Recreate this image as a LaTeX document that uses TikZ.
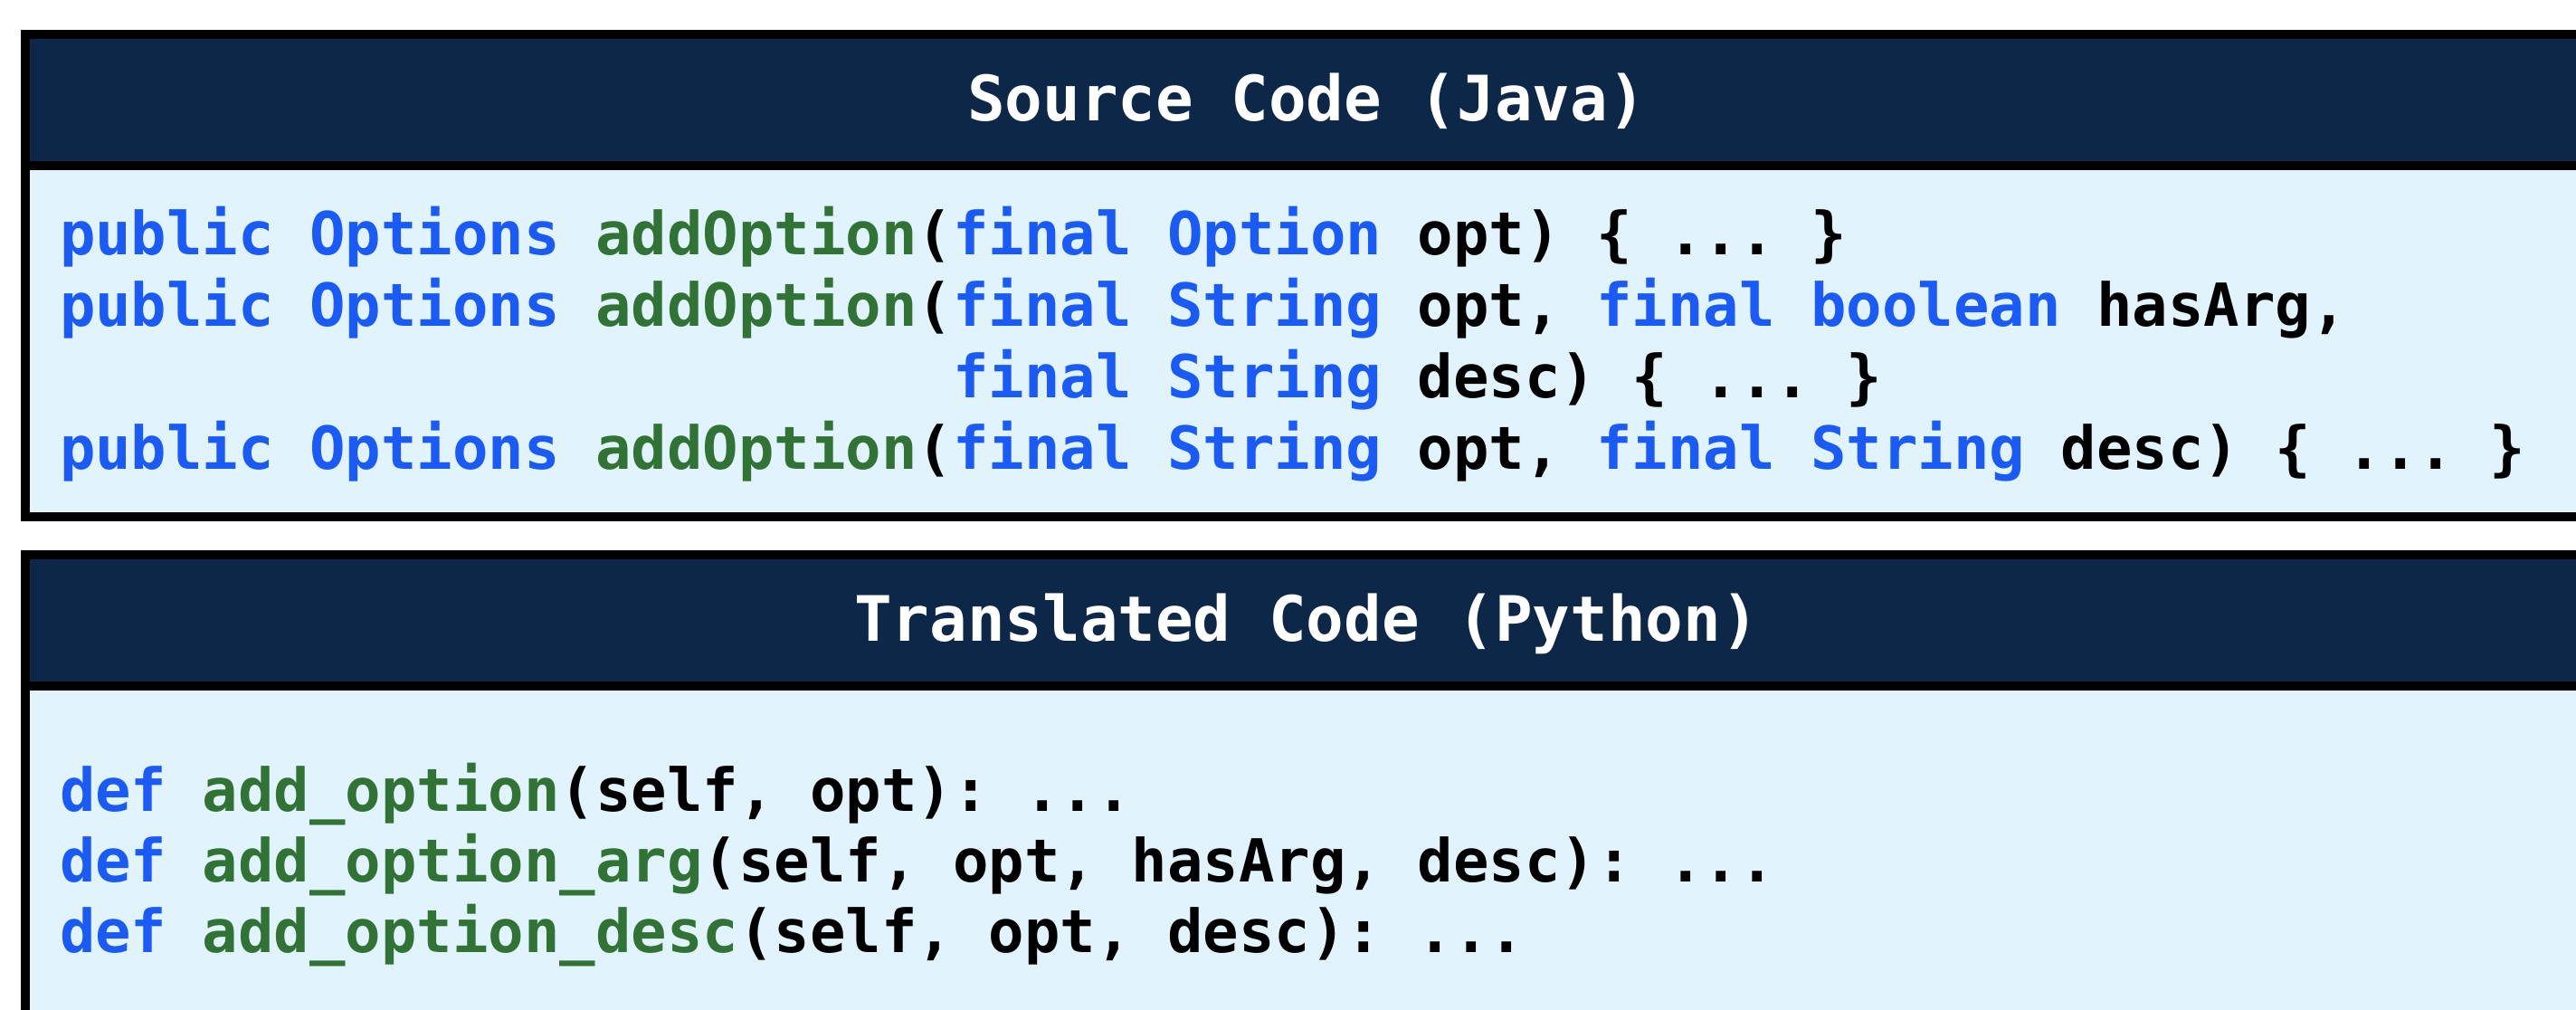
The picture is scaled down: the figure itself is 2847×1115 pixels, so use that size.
\documentclass[tikz,border=0pt]{standalone}
\usepackage{fontspec}
\setmonofont{DejaVu Sans Mono}
\definecolor{navy}{RGB}{12,39,71}
\definecolor{paleblue}{RGB}{225,243,253}
\definecolor{kwblue}{RGB}{26,90,247}
\definecolor{fngreen}{RGB}{48,115,53}
\newcommand\mykw[1]{\textcolor{kwblue}{#1}}
\newcommand\myfn[1]{\textcolor{fngreen}{#1}}
\tikzset{
  codeline/.style={anchor=base west, inner sep=0pt, outer sep=0pt, text=black,
    font=\ttfamily\bfseries\fontsize{16.4}{19.7}\selectfont},
  paneltitle/.style={anchor=base, inner sep=0pt, outer sep=0pt, text=white,
    font=\ttfamily\bfseries\fontsize{17.3}{20.8}\selectfont},
  frameline/.style={draw=black, line width=2.5pt},
}
\begin{document}
\begin{tikzpicture}[x=0.25pt,y=-0.25pt]
\useasboundingbox (0,0) rectangle (2847,1115);
\clip (0,0) rectangle (2847,1115);
% panel 1
\fill[paleblue] (27.7,37.7) rectangle (2900,570.7);
\fill[navy] (27.7,37.7) rectangle (2900,183);
\draw[frameline] (2900,37.7) -- (27.7,37.7) -- (27.7,570.7) -- (2900,570.7);
\draw[frameline] (27.7,183) -- (2900,183);
% panel 2
\fill[paleblue] (27.7,613.3) rectangle (2900,1140);
\fill[navy] (27.7,613.3) rectangle (2900,757.5);
\draw[frameline] (2900,613.3) -- (27.7,613.3) -- (27.7,1140);
\draw[frameline] (27.7,757.5) -- (2900,757.5);
% titles
\node[paneltitle] (t1) at (1444,133) {Source Code (Java)};
\node[paneltitle] (t2) at (1444,708) {Translated Code (Python)};
% Java code
\node[codeline] (j1) at (66,281) {\mykw{public} \mykw{Options} \myfn{addOption}(\mykw{final} \mykw{Option} opt) \{ ... \}};
\node[codeline] (j2) at (66,360) {\mykw{public} \mykw{Options} \myfn{addOption}(\mykw{final} \mykw{String} opt, \mykw{final} \mykw{boolean} hasArg,};
\node[codeline] (j3) at (66,439) {\hphantom{public Options addOption(}\mykw{final} \mykw{String} desc) \{ ... \}};
\node[codeline] (j4) at (66,518) {\mykw{public} \mykw{Options} \myfn{addOption}(\mykw{final} \mykw{String} opt, \mykw{final} \mykw{String} desc) \{ ... \}};
% Python code
\node[codeline] (p1) at (66,896) {\mykw{def} \myfn{add\_option}(self, opt): ...};
\node[codeline] (p2) at (66,974) {\mykw{def} \myfn{add\_option\_arg}(self, opt, hasArg, desc): ...};
\node[codeline] (p3) at (66,1052) {\mykw{def} \myfn{add\_option\_desc}(self, opt, desc): ...};
\end{tikzpicture}
\end{document}
